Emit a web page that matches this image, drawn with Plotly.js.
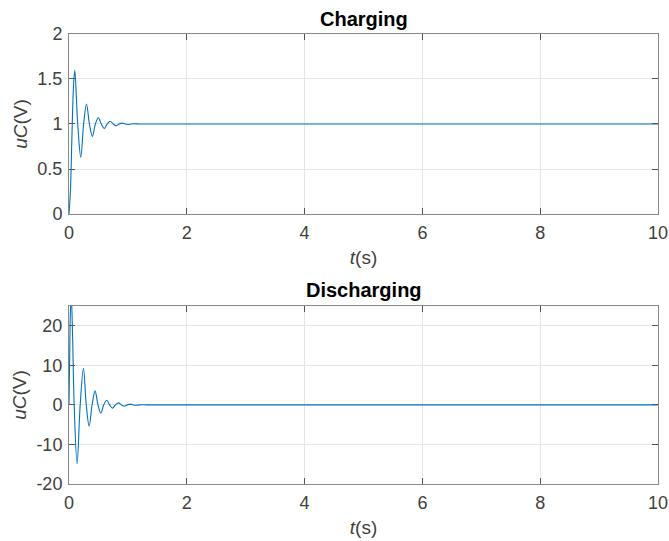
<!DOCTYPE html>
<html><head><meta charset="utf-8">
<script src="https://cdn.plot.ly/plotly-3.0.1.min.js"></script>
<style>body{margin:0;background:#fff}</style></head>
<body><div id="chart" style="width:669px;height:541px"></div>
<script>
const chargeTitle = "Charging";
const dischargeTitle = "Discharging";
const tCharge = [0,0.025,0.05,0.075,0.098,0.148,0.2,0.248,0.297,0.347,0.397,0.448,0.498,0.548,0.598,0.648,0.7,0.75,0.8,0.85,0.9,0.95,1.0,1.05,1.1,1.2,1.4,1.7,2,3,4,5,6,7,8,9,10];
const uCharge = [0,0.27,0.87,1.4,1.596,1.0,0.63,1.0,1.222,1.0,0.863,1.0,1.07,1.0,0.95,1.0,1.03,1.0,0.98,1.0,1.01,1.0,0.995,1.0,1.003,1.0,1,1,1,1,1,1,1,1,1,1,1];
const tDischarge = [0,0.012,0.025,0.04,0.06,0.088,0.137,0.19,0.245,0.293,0.342,0.392,0.443,0.492,0.54,0.59,0.641,0.69,0.738,0.79,0.84,0.89,0.94,0.99,1.04,1.09,1.14,1.2,1.4,1.7,2,3,4,5,6,7,8,9,10];
const uDischarge = [0,13,24,27,18,0,-14.9,0,9.26,0,-5.37,0,3.55,0,-2.07,0,1.16,0,-0.83,0,0.5,0,-0.3,0,0.18,0,-0.1,0,0,0,0,0,0,0,0,0,0,0,0];
const xTicks = [0,2,4,6,8,10];
const yTicksTop = [0,0.5,1,1.5,2];
const yTicksBottom = [-20,-10,0,10,20];
const xLabel = "<i>t</i>(s)";
const yLabel = "<i>uC</i>(V)";

const FONT = "Liberation Sans, Arial, Helvetica, sans-serif";
const lineStyle = {color:"#0072BD", width:1.1, shape:"spline", smoothing:1};
const traces = [
  {x:tCharge, y:uCharge, xaxis:"x", yaxis:"y", mode:"lines", line:lineStyle, hoverinfo:"skip"},
  {x:tDischarge, y:uDischarge, xaxis:"x2", yaxis:"y2", mode:"lines", line:lineStyle, hoverinfo:"skip"}
];
function xa(anchor){
  return {anchor:anchor, domain:[0,1], range:[0,10], tickvals:xTicks, ticktext:xTicks.map(String),
    ticks:"inside", ticklen:6, tickcolor:"#555", showline:true, linecolor:"#8a8a8a", linewidth:1, mirror:"ticks",
    showgrid:true, gridcolor:"#e6e6e6", zeroline:false, tickfont:{family:FONT,size:18,color:"#404040"},
    ticklabelstandoff:2,
    title:{text:xLabel, font:{family:FONT,size:19,color:"#404040"}, standoff:9}, automargin:false};
}
function ya(anchor, dom, rng, tv){
  return {anchor:anchor, domain:dom, range:rng, tickvals:tv, ticktext:tv.map(String),
    ticks:"inside", ticklen:6, tickcolor:"#555", showline:true, linecolor:"#8a8a8a", linewidth:1, mirror:"ticks",
    showgrid:true, gridcolor:"#e6e6e6", zeroline:false, tickfont:{family:FONT,size:18,color:"#404040"},
    ticklabelstandoff:2,
    title:{text:yLabel, font:{family:FONT,size:19,color:"#404040"}, standoff:4}, automargin:false};
}
const layout = {
  width:669, height:541, margin:{l:69,r:11,t:0,b:0}, showlegend:false,
  paper_bgcolor:"#fff", plot_bgcolor:"#fff",
  xaxis: xa("y"), yaxis: ya("x",[0.6044,0.9372],[0,2],yTicksTop),
  xaxis2: xa("y2"), yaxis2: ya("x2",[0.1054,0.4344],[-20,25],yTicksBottom),
  annotations:[
    {text:"<b>"+chargeTitle+"</b>", xref:"paper", yref:"paper", x:0.5, y:0.9372, yanchor:"bottom", yshift:2, showarrow:false, font:{family:FONT,size:20,color:"#000"}},
    {text:"<b>"+dischargeTitle+"</b>", xref:"paper", yref:"paper", x:0.5, y:0.4344, yanchor:"bottom", yshift:3, showarrow:false, font:{family:FONT,size:20,color:"#000"}}
  ]
};
Plotly.newPlot("chart", traces, layout, {staticPlot:true, displayModeBar:false});
</script></body></html>
